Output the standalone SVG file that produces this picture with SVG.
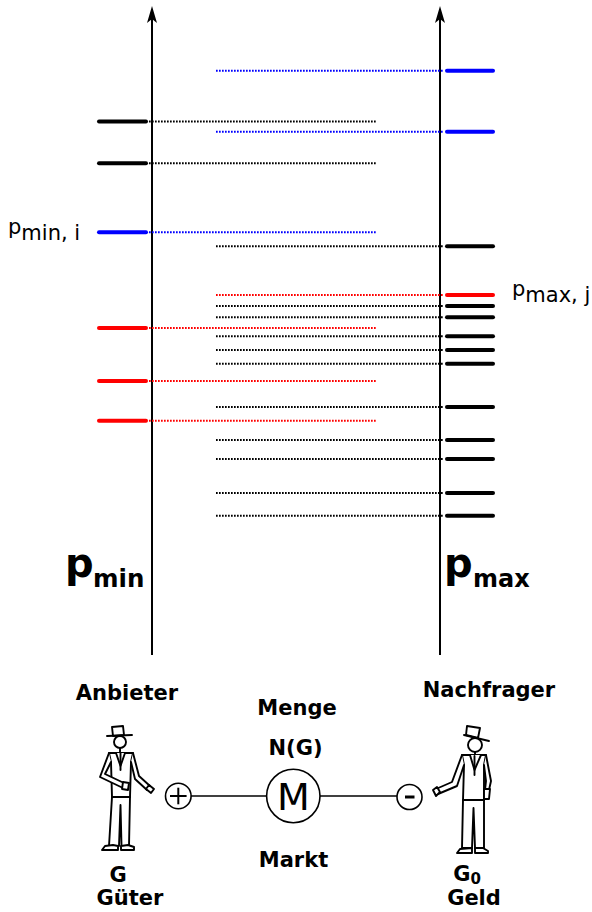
<svg xmlns="http://www.w3.org/2000/svg" width="592" height="912" viewBox="0 0 592 912">
  <style>
    .axis { stroke: #000; stroke-width: 2; fill: none; }
    .tick { stroke-width: 4; stroke-linecap: round; fill: none; }
    .dot { stroke-width: 2; stroke-dasharray: 1.7 1.3; fill: none; }
    .k { stroke: #000; }
    .b { stroke: #0000ff; }
    .r { stroke: #ff0000; }
    .lbl { font-family: "DejaVu Sans", sans-serif; fill: #000; }
    .bold { font-family: "DejaVu Sans", sans-serif; font-weight: bold; fill: #000; }
    .fig { stroke: #000; stroke-width: 1.9; fill: #fff; stroke-linejoin: round; stroke-linecap: round; }
    .thin { stroke: #000; stroke-width: 1.6; fill: #fff; }
  </style>
  <rect width="592" height="912" fill="#fff"/>

  <!-- price axes -->
  <g id="axis-min">
    <line class="axis" x1="152" y1="655" x2="152" y2="18"/>
    <path d="M152,6 L147,23 L152,19 L157,23 Z" fill="#000"/>
  </g>
  <g id="axis-max">
    <line class="axis" x1="440" y1="655" x2="440" y2="18"/>
    <path d="M440,6 L435,23 L440,19 L445,23 Z" fill="#000"/>
  </g>

  <!-- dotted guide lines -->
  <g id="connectors">
    <line class="dot k" x1="149" y1="121.5" x2="376" y2="121.5"/>
    <line class="dot k" x1="149" y1="163.3" x2="376" y2="163.3"/>
    <line class="dot b" x1="149" y1="232.3" x2="376" y2="232.3"/>
    <line class="dot r" x1="149" y1="328" x2="376" y2="328"/>
    <line class="dot r" x1="149" y1="381" x2="376" y2="381"/>
    <line class="dot r" x1="149" y1="420.7" x2="376" y2="420.7"/>

    <line class="dot b" x1="216" y1="70.7" x2="443" y2="70.7"/>
    <line class="dot b" x1="216" y1="131.7" x2="443" y2="131.7"/>
    <line class="dot k" x1="216" y1="246.3" x2="443" y2="246.3"/>
    <line class="dot r" x1="216" y1="295" x2="443" y2="295"/>
    <line class="dot k" x1="216" y1="306" x2="443" y2="306"/>
    <line class="dot k" x1="216" y1="317.3" x2="443" y2="317.3"/>
    <line class="dot k" x1="216" y1="336.3" x2="443" y2="336.3"/>
    <line class="dot k" x1="216" y1="350" x2="443" y2="350"/>
    <line class="dot k" x1="216" y1="363.7" x2="443" y2="363.7"/>
    <line class="dot k" x1="216" y1="407" x2="443" y2="407"/>
    <line class="dot k" x1="216" y1="440" x2="443" y2="440"/>
    <line class="dot k" x1="216" y1="459" x2="443" y2="459"/>
    <line class="dot k" x1="216" y1="493" x2="443" y2="493"/>
    <line class="dot k" x1="216" y1="515.7" x2="443" y2="515.7"/>

    <line class="thin" x1="191" y1="796" x2="266.5" y2="796"/>
    <line class="thin" x1="320" y1="796" x2="397" y2="796"/>
  </g>

  <!-- seller price levels -->
  <g id="ticks-min">
    <line class="tick k" x1="99" y1="121.5" x2="146" y2="121.5"/>
    <line class="tick k" x1="99" y1="163.3" x2="146" y2="163.3"/>
    <line class="tick b" x1="99" y1="232.3" x2="146" y2="232.3"/>
    <line class="tick r" x1="99" y1="328" x2="146" y2="328"/>
    <line class="tick r" x1="99" y1="381" x2="146" y2="381"/>
    <line class="tick r" x1="99" y1="420.7" x2="146" y2="420.7"/>
  </g>

  <!-- buyer price levels -->
  <g id="ticks-max">
    <line class="tick b" x1="447" y1="70.7" x2="493" y2="70.7"/>
    <line class="tick b" x1="447" y1="131.7" x2="493" y2="131.7"/>
    <line class="tick k" x1="447" y1="246.3" x2="493" y2="246.3"/>
    <line class="tick r" x1="447" y1="295" x2="493" y2="295"/>
    <line class="tick k" x1="447" y1="306" x2="493" y2="306"/>
    <line class="tick k" x1="447" y1="317.3" x2="493" y2="317.3"/>
    <line class="tick k" x1="447" y1="336.3" x2="493" y2="336.3"/>
    <line class="tick k" x1="447" y1="350" x2="493" y2="350"/>
    <line class="tick k" x1="447" y1="363.7" x2="493" y2="363.7"/>
    <line class="tick k" x1="447" y1="407" x2="493" y2="407"/>
    <line class="tick k" x1="447" y1="440" x2="493" y2="440"/>
    <line class="tick k" x1="447" y1="459" x2="493" y2="459"/>
    <line class="tick k" x1="447" y1="493" x2="493" y2="493"/>
    <line class="tick k" x1="447" y1="515.7" x2="493" y2="515.7"/>
  </g>

  <!-- level labels -->
  <g id="label-pmin-i">
    <text class="lbl" x="8" y="239.5" font-size="21"><tspan dy="-6">p</tspan><tspan dy="6">min, i</tspan></text>
  </g>
  <g id="label-pmax-j">
    <text class="lbl" x="512" y="301.7" font-size="21"><tspan dy="-6">p</tspan><tspan dy="6">max, j</tspan></text>
  </g>

  <!-- axis titles -->
  <g id="title-pmin">
    <text class="bold" x="65" y="577" font-size="40">p</text>
    <text class="bold" x="93" y="587" font-size="24.5">min</text>
  </g>
  <g id="title-pmax">
    <text class="bold" x="444" y="577" font-size="40">p</text>
    <text class="bold" x="473" y="587" font-size="24">max</text>
  </g>

  <!-- seller -->
  <g id="anbieter">
    <text class="bold" x="127" y="700" font-size="21" text-anchor="middle">Anbieter</text>
    <!-- hat -->
    <path class="fig" d="M112,727 L123,726 L124,735 L113,736 Z"/>
    <line class="fig" x1="107" y1="736" x2="132" y2="735"/>
    <circle class="fig" cx="120" cy="742" r="6"/>
    <line class="fig" x1="120" y1="748" x2="120" y2="753"/>
    <!-- legs -->
    <path class="fig" d="M112,797 L109,846 L119,846 L120.5,805 L121.5,846 L129,846 L130,797 Z"/>
    <!-- shoes -->
    <path class="fig" d="M102,850 L105,846 L113,845 L118,846 L118,850 Z"/>
    <path class="fig" d="M121,846 L128,845 L134,847 L134,850 L121,850 Z"/>
    <!-- jacket -->
    <path class="fig" d="M109,753 L133,753 L131,762 L130,797 L112,797 L111,762 Z"/>
    <path class="fig" d="M116,753 L120.5,766 L125,753"/>
    <line class="fig" x1="120.5" y1="753" x2="120.5" y2="770"/>
    <!-- right arm reaching out -->
    <path class="fig" d="M133,753 L139,776 L150,786 L147,790 L135,779 L131,762"/>
    <path class="fig" d="M149,785 L154,789 L151,793 L146,789 Z"/>
    <!-- left arm folded across -->
    <path class="fig" d="M109,753 L100,777 L123,788 L124,783 L105,774 L111,762"/>
    <path class="fig" d="M123,782 L129,783 L128,790 L122,789 Z"/>
    <text class="bold" x="118" y="882" font-size="21" text-anchor="middle">G</text>
    <text class="bold" x="130" y="905" font-size="21" text-anchor="middle">Güter</text>
  </g>

  <!-- market -->
  <g id="markt">
    <text class="bold" x="297" y="715" font-size="21" text-anchor="middle">Menge</text>
    <text class="bold" x="295.5" y="755" font-size="21" text-anchor="middle">N(G)</text>
    <circle class="thin" cx="293.3" cy="796" r="26.7"/>
    <text class="lbl" x="293.3" y="810" font-size="38" text-anchor="middle">M</text>
    <text class="bold" x="293.5" y="866.7" font-size="21" text-anchor="middle">Markt</text>
  </g>

  <g id="plus">
    <circle class="thin" cx="178.3" cy="796" r="12.8"/>
    <line stroke="#000" stroke-width="2" x1="170" y1="796" x2="186.6" y2="796"/>
    <line stroke="#000" stroke-width="2" x1="178.3" y1="787.7" x2="178.3" y2="804.3"/>
  </g>
  <g id="minus">
    <circle class="thin" cx="409.5" cy="797" r="12.5"/>
    <line stroke="#000" stroke-width="3" x1="405" y1="797" x2="414.5" y2="797"/>
  </g>

  <!-- buyer -->
  <g id="nachfrager">
    <text class="bold" x="489" y="697" font-size="21" text-anchor="middle">Nachfrager</text>
    <!-- hat -->
    <path class="fig" d="M467,726 L480,728 L478,738 L466,735 Z"/>
    <line class="fig" x1="464" y1="735" x2="489" y2="741"/>
    <circle class="fig" cx="475" cy="745" r="7"/>
    <line class="fig" x1="475" y1="752" x2="475" y2="756"/>
    <!-- legs -->
    <path class="fig" d="M463,800 L462,848 L472,848 L473.5,808 L475,848 L484,848 L484,800 Z"/>
    <!-- shoes -->
    <path class="fig" d="M457,853 L460,849 L472,848 L472,853 Z"/>
    <path class="fig" d="M475,848 L483,848 L488,851 L488,853 L475,853 Z"/>
    <!-- jacket -->
    <path class="fig" d="M462,755 L486,755 L484,765 L484,800 L463,800 L464,765 Z"/>
    <path class="fig" d="M470,755 L474.5,770 L481,755"/>
    <line class="fig" x1="474.5" y1="756" x2="474.5" y2="775"/>
    <!-- arm reaching out -->
    <path class="fig" d="M462,755 L452,782 L436,789 L438,794 L457,786 L464,765"/>
    <path class="fig" d="M433,790 L437,787 L440,792 L436,796 Z"/>
    <!-- arm at side -->
    <path class="fig" d="M486,755 L491,781 L489,790 L485,790 L486,781 L484,765"/>
    <path class="fig" d="M484,789 L490,789 L489,799 L484,799 Z"/>
    <text class="bold" x="467" y="880.7" font-size="21" text-anchor="middle">G<tspan font-size="15" dy="3">0</tspan></text>
    <text class="bold" x="474" y="905" font-size="21" text-anchor="middle">Geld</text>
  </g>
</svg>
